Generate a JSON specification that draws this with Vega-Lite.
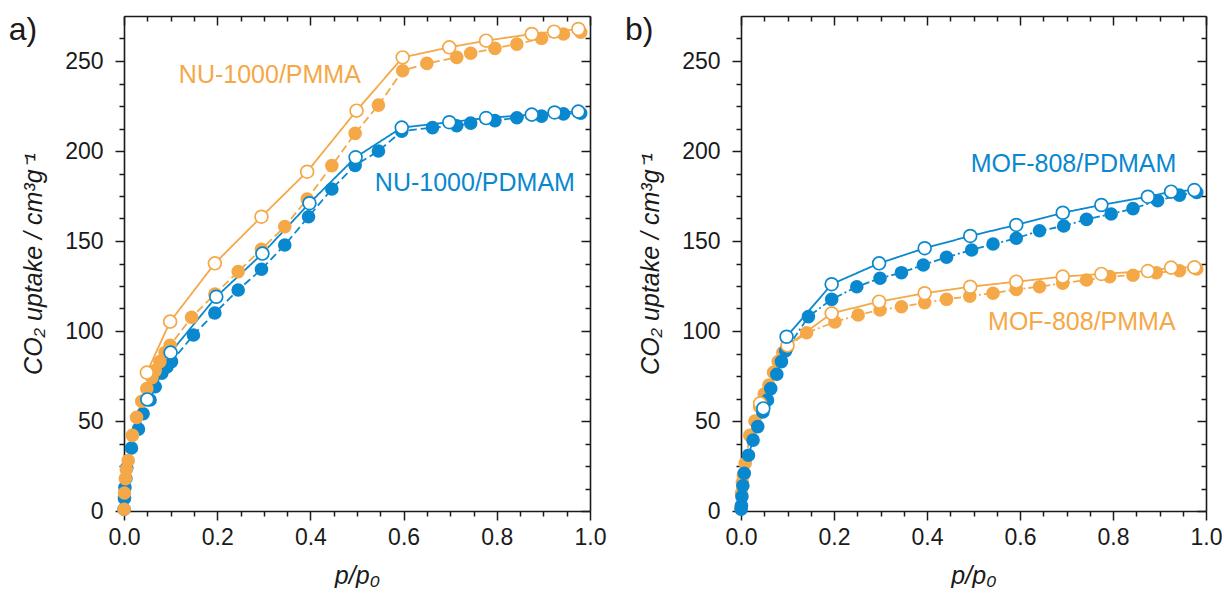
{
  "$schema": "https://vega.github.io/schema/vega-lite/v6.json",
  "autosize": {"type": "pad"},
  "padding": {"left": 8, "top": 14, "right": 0, "bottom": 0},
  "spacing": 151,
  "bounds": "flush",
  "config": {
    "font": "Liberation Sans",
    "view": {"stroke": null},
    "axis": {"domainColor": "#1a1a1a", "domainWidth": 1.6, "tickColor": "#1a1a1a", "tickWidth": 1.5, "labelFontSize": 23, "labelColor": "#1a1a1a", "titleFontSize": 25, "titleFontWeight": "normal", "titleColor": "#1a1a1a", "grid": false, "labelOverlap": false, "labelFlush": false}
  },
  "resolve": {"scale": {"color": "independent", "strokeDash": "independent"}},
  "datasets": {
    "iso": [
      {"panel":"a","mat":"PDMAM","mode":"ads","p":0.0002,"v":1},
      {"panel":"a","mat":"PDMAM","mode":"ads","p":0.001,"v":7},
      {"panel":"a","mat":"PDMAM","mode":"ads","p":0.002,"v":13},
      {"panel":"a","mat":"PDMAM","mode":"ads","p":0.004,"v":18},
      {"panel":"a","mat":"PDMAM","mode":"ads","p":0.006,"v":24},
      {"panel":"a","mat":"PDMAM","mode":"ads","p":0.016,"v":35},
      {"panel":"a","mat":"PDMAM","mode":"ads","p":0.031,"v":45.5},
      {"panel":"a","mat":"PDMAM","mode":"ads","p":0.041,"v":54},
      {"panel":"a","mat":"PDMAM","mode":"ads","p":0.056,"v":61.7},
      {"panel":"a","mat":"PDMAM","mode":"ads","p":0.067,"v":69},
      {"panel":"a","mat":"PDMAM","mode":"ads","p":0.081,"v":76.5},
      {"panel":"a","mat":"PDMAM","mode":"ads","p":0.092,"v":80},
      {"panel":"a","mat":"PDMAM","mode":"ads","p":0.102,"v":83},
      {"panel":"a","mat":"PDMAM","mode":"ads","p":0.149,"v":97.8},
      {"panel":"a","mat":"PDMAM","mode":"ads","p":0.195,"v":110},
      {"panel":"a","mat":"PDMAM","mode":"ads","p":0.245,"v":122.8},
      {"panel":"a","mat":"PDMAM","mode":"ads","p":0.295,"v":134.3},
      {"panel":"a","mat":"PDMAM","mode":"ads","p":0.345,"v":147.8},
      {"panel":"a","mat":"PDMAM","mode":"ads","p":0.396,"v":163.5},
      {"panel":"a","mat":"PDMAM","mode":"ads","p":0.446,"v":178.9},
      {"panel":"a","mat":"PDMAM","mode":"ads","p":0.496,"v":192},
      {"panel":"a","mat":"PDMAM","mode":"ads","p":0.546,"v":200},
      {"panel":"a","mat":"PDMAM","mode":"ads","p":0.596,"v":211},
      {"panel":"a","mat":"PDMAM","mode":"ads","p":0.662,"v":213},
      {"panel":"a","mat":"PDMAM","mode":"ads","p":0.714,"v":214},
      {"panel":"a","mat":"PDMAM","mode":"ads","p":0.744,"v":215.5},
      {"panel":"a","mat":"PDMAM","mode":"ads","p":0.796,"v":216.9},
      {"panel":"a","mat":"PDMAM","mode":"ads","p":0.843,"v":218.5},
      {"panel":"a","mat":"PDMAM","mode":"ads","p":0.896,"v":219.4},
      {"panel":"a","mat":"PDMAM","mode":"ads","p":0.943,"v":220.6},
      {"panel":"a","mat":"PDMAM","mode":"ads","p":0.98,"v":221},
      {"panel":"a","mat":"PDMAM","mode":"des","p":0.05,"v":62},
      {"panel":"a","mat":"PDMAM","mode":"des","p":0.1,"v":88},
      {"panel":"a","mat":"PDMAM","mode":"des","p":0.198,"v":119},
      {"panel":"a","mat":"PDMAM","mode":"des","p":0.297,"v":143},
      {"panel":"a","mat":"PDMAM","mode":"des","p":0.398,"v":171},
      {"panel":"a","mat":"PDMAM","mode":"des","p":0.497,"v":196.5},
      {"panel":"a","mat":"PDMAM","mode":"des","p":0.596,"v":213},
      {"panel":"a","mat":"PDMAM","mode":"des","p":0.698,"v":216},
      {"panel":"a","mat":"PDMAM","mode":"des","p":0.777,"v":218.3},
      {"panel":"a","mat":"PDMAM","mode":"des","p":0.875,"v":220.2},
      {"panel":"a","mat":"PDMAM","mode":"des","p":0.924,"v":221.4},
      {"panel":"a","mat":"PDMAM","mode":"des","p":0.975,"v":221.9},
      {"panel":"a","mat":"PMMA","mode":"ads","p":0.0002,"v":1},
      {"panel":"a","mat":"PMMA","mode":"ads","p":0.001,"v":10},
      {"panel":"a","mat":"PMMA","mode":"ads","p":0.003,"v":18},
      {"panel":"a","mat":"PMMA","mode":"ads","p":0.005,"v":23},
      {"panel":"a","mat":"PMMA","mode":"ads","p":0.009,"v":28},
      {"panel":"a","mat":"PMMA","mode":"ads","p":0.018,"v":42},
      {"panel":"a","mat":"PMMA","mode":"ads","p":0.027,"v":52},
      {"panel":"a","mat":"PMMA","mode":"ads","p":0.038,"v":61},
      {"panel":"a","mat":"PMMA","mode":"ads","p":0.049,"v":68},
      {"panel":"a","mat":"PMMA","mode":"ads","p":0.06,"v":74},
      {"panel":"a","mat":"PMMA","mode":"ads","p":0.067,"v":78},
      {"panel":"a","mat":"PMMA","mode":"ads","p":0.077,"v":83},
      {"panel":"a","mat":"PMMA","mode":"ads","p":0.088,"v":88},
      {"panel":"a","mat":"PMMA","mode":"ads","p":0.099,"v":92},
      {"panel":"a","mat":"PMMA","mode":"ads","p":0.145,"v":107.6},
      {"panel":"a","mat":"PMMA","mode":"ads","p":0.195,"v":120.5},
      {"panel":"a","mat":"PMMA","mode":"ads","p":0.245,"v":133},
      {"panel":"a","mat":"PMMA","mode":"ads","p":0.295,"v":145.4},
      {"panel":"a","mat":"PMMA","mode":"ads","p":0.345,"v":158},
      {"panel":"a","mat":"PMMA","mode":"ads","p":0.393,"v":173.3},
      {"panel":"a","mat":"PMMA","mode":"ads","p":0.446,"v":191.9},
      {"panel":"a","mat":"PMMA","mode":"ads","p":0.496,"v":209.8},
      {"panel":"a","mat":"PMMA","mode":"ads","p":0.546,"v":225.5},
      {"panel":"a","mat":"PMMA","mode":"ads","p":0.598,"v":244.6},
      {"panel":"a","mat":"PMMA","mode":"ads","p":0.65,"v":248.7},
      {"panel":"a","mat":"PMMA","mode":"ads","p":0.714,"v":252},
      {"panel":"a","mat":"PMMA","mode":"ads","p":0.744,"v":254.3},
      {"panel":"a","mat":"PMMA","mode":"ads","p":0.796,"v":257},
      {"panel":"a","mat":"PMMA","mode":"ads","p":0.843,"v":259.4},
      {"panel":"a","mat":"PMMA","mode":"ads","p":0.896,"v":262.6},
      {"panel":"a","mat":"PMMA","mode":"ads","p":0.943,"v":265},
      {"panel":"a","mat":"PMMA","mode":"ads","p":0.98,"v":266},
      {"panel":"a","mat":"PMMA","mode":"des","p":0.049,"v":76.9},
      {"panel":"a","mat":"PMMA","mode":"des","p":0.099,"v":105.2},
      {"panel":"a","mat":"PMMA","mode":"des","p":0.195,"v":137.6},
      {"panel":"a","mat":"PMMA","mode":"des","p":0.295,"v":163.5},
      {"panel":"a","mat":"PMMA","mode":"des","p":0.393,"v":188.5},
      {"panel":"a","mat":"PMMA","mode":"des","p":0.499,"v":222.4},
      {"panel":"a","mat":"PMMA","mode":"des","p":0.598,"v":252},
      {"panel":"a","mat":"PMMA","mode":"des","p":0.698,"v":257.6},
      {"panel":"a","mat":"PMMA","mode":"des","p":0.777,"v":261.3},
      {"panel":"a","mat":"PMMA","mode":"des","p":0.875,"v":265},
      {"panel":"a","mat":"PMMA","mode":"des","p":0.923,"v":266.3},
      {"panel":"a","mat":"PMMA","mode":"des","p":0.975,"v":267.8},

      {"panel":"b","mat":"PMMA","mode":"ads","p":0.0002,"v":2},
      {"panel":"b","mat":"PMMA","mode":"ads","p":0.001,"v":10},
      {"panel":"b","mat":"PMMA","mode":"ads","p":0.003,"v":16},
      {"panel":"b","mat":"PMMA","mode":"ads","p":0.005,"v":20},
      {"panel":"b","mat":"PMMA","mode":"ads","p":0.009,"v":26.5},
      {"panel":"b","mat":"PMMA","mode":"ads","p":0.019,"v":42},
      {"panel":"b","mat":"PMMA","mode":"ads","p":0.03,"v":50},
      {"panel":"b","mat":"PMMA","mode":"ads","p":0.04,"v":58},
      {"panel":"b","mat":"PMMA","mode":"ads","p":0.05,"v":65},
      {"panel":"b","mat":"PMMA","mode":"ads","p":0.06,"v":70},
      {"panel":"b","mat":"PMMA","mode":"ads","p":0.07,"v":77},
      {"panel":"b","mat":"PMMA","mode":"ads","p":0.08,"v":83},
      {"panel":"b","mat":"PMMA","mode":"ads","p":0.09,"v":88},
      {"panel":"b","mat":"PMMA","mode":"ads","p":0.1,"v":91},
      {"panel":"b","mat":"PMMA","mode":"ads","p":0.141,"v":99},
      {"panel":"b","mat":"PMMA","mode":"ads","p":0.202,"v":105},
      {"panel":"b","mat":"PMMA","mode":"ads","p":0.252,"v":108.9},
      {"panel":"b","mat":"PMMA","mode":"ads","p":0.299,"v":111.7},
      {"panel":"b","mat":"PMMA","mode":"ads","p":0.345,"v":113.5},
      {"panel":"b","mat":"PMMA","mode":"ads","p":0.395,"v":115.7},
      {"panel":"b","mat":"PMMA","mode":"ads","p":0.442,"v":117.6},
      {"panel":"b","mat":"PMMA","mode":"ads","p":0.492,"v":119.4},
      {"panel":"b","mat":"PMMA","mode":"ads","p":0.542,"v":121},
      {"panel":"b","mat":"PMMA","mode":"ads","p":0.592,"v":123.1},
      {"panel":"b","mat":"PMMA","mode":"ads","p":0.642,"v":124.6},
      {"panel":"b","mat":"PMMA","mode":"ads","p":0.692,"v":126.5},
      {"panel":"b","mat":"PMMA","mode":"ads","p":0.743,"v":128.3},
      {"panel":"b","mat":"PMMA","mode":"ads","p":0.793,"v":130.2},
      {"panel":"b","mat":"PMMA","mode":"ads","p":0.843,"v":131},
      {"panel":"b","mat":"PMMA","mode":"ads","p":0.893,"v":132.4},
      {"panel":"b","mat":"PMMA","mode":"ads","p":0.943,"v":133.5},
      {"panel":"b","mat":"PMMA","mode":"ads","p":0.98,"v":134.5},
      {"panel":"b","mat":"PMMA","mode":"des","p":0.041,"v":59.8},
      {"panel":"b","mat":"PMMA","mode":"des","p":0.1,"v":92},
      {"panel":"b","mat":"PMMA","mode":"des","p":0.195,"v":109.8},
      {"panel":"b","mat":"PMMA","mode":"des","p":0.297,"v":116.3},
      {"panel":"b","mat":"PMMA","mode":"des","p":0.395,"v":121},
      {"panel":"b","mat":"PMMA","mode":"des","p":0.493,"v":124.6},
      {"panel":"b","mat":"PMMA","mode":"des","p":0.592,"v":127.4},
      {"panel":"b","mat":"PMMA","mode":"des","p":0.692,"v":130.2},
      {"panel":"b","mat":"PMMA","mode":"des","p":0.775,"v":131.7},
      {"panel":"b","mat":"PMMA","mode":"des","p":0.875,"v":133.3},
      {"panel":"b","mat":"PMMA","mode":"des","p":0.925,"v":135.2},
      {"panel":"b","mat":"PMMA","mode":"des","p":0.975,"v":135.4},
      {"panel":"b","mat":"PDMAM","mode":"ads","p":0.0002,"v":1},
      {"panel":"b","mat":"PDMAM","mode":"ads","p":0.001,"v":3},
      {"panel":"b","mat":"PDMAM","mode":"ads","p":0.002,"v":8},
      {"panel":"b","mat":"PDMAM","mode":"ads","p":0.004,"v":14},
      {"panel":"b","mat":"PDMAM","mode":"ads","p":0.007,"v":21},
      {"panel":"b","mat":"PDMAM","mode":"ads","p":0.016,"v":31},
      {"panel":"b","mat":"PDMAM","mode":"ads","p":0.026,"v":39.4},
      {"panel":"b","mat":"PDMAM","mode":"ads","p":0.036,"v":46.9},
      {"panel":"b","mat":"PDMAM","mode":"ads","p":0.047,"v":55},
      {"panel":"b","mat":"PDMAM","mode":"ads","p":0.057,"v":61.7},
      {"panel":"b","mat":"PDMAM","mode":"ads","p":0.064,"v":68},
      {"panel":"b","mat":"PDMAM","mode":"ads","p":0.077,"v":76},
      {"panel":"b","mat":"PDMAM","mode":"ads","p":0.087,"v":83},
      {"panel":"b","mat":"PDMAM","mode":"ads","p":0.096,"v":89},
      {"panel":"b","mat":"PDMAM","mode":"ads","p":0.145,"v":108},
      {"panel":"b","mat":"PDMAM","mode":"ads","p":0.195,"v":117.6},
      {"panel":"b","mat":"PDMAM","mode":"ads","p":0.249,"v":124.6},
      {"panel":"b","mat":"PDMAM","mode":"ads","p":0.299,"v":129.3},
      {"panel":"b","mat":"PDMAM","mode":"ads","p":0.345,"v":132.4},
      {"panel":"b","mat":"PDMAM","mode":"ads","p":0.392,"v":136.7},
      {"panel":"b","mat":"PDMAM","mode":"ads","p":0.442,"v":141},
      {"panel":"b","mat":"PDMAM","mode":"ads","p":0.496,"v":145},
      {"panel":"b","mat":"PDMAM","mode":"ads","p":0.542,"v":148.3},
      {"panel":"b","mat":"PDMAM","mode":"ads","p":0.592,"v":151.5},
      {"panel":"b","mat":"PDMAM","mode":"ads","p":0.642,"v":155.7},
      {"panel":"b","mat":"PDMAM","mode":"ads","p":0.694,"v":158.3},
      {"panel":"b","mat":"PDMAM","mode":"ads","p":0.743,"v":162},
      {"panel":"b","mat":"PDMAM","mode":"ads","p":0.796,"v":165},
      {"panel":"b","mat":"PDMAM","mode":"ads","p":0.843,"v":168},
      {"panel":"b","mat":"PDMAM","mode":"ads","p":0.896,"v":172.4},
      {"panel":"b","mat":"PDMAM","mode":"ads","p":0.943,"v":175.5},
      {"panel":"b","mat":"PDMAM","mode":"ads","p":0.98,"v":177},
      {"panel":"b","mat":"PDMAM","mode":"des","p":0.048,"v":57},
      {"panel":"b","mat":"PDMAM","mode":"des","p":0.098,"v":96.8},
      {"panel":"b","mat":"PDMAM","mode":"des","p":0.195,"v":126},
      {"panel":"b","mat":"PDMAM","mode":"des","p":0.297,"v":137.6},
      {"panel":"b","mat":"PDMAM","mode":"des","p":0.395,"v":146},
      {"panel":"b","mat":"PDMAM","mode":"des","p":0.493,"v":152.8},
      {"panel":"b","mat":"PDMAM","mode":"des","p":0.592,"v":158.9},
      {"panel":"b","mat":"PDMAM","mode":"des","p":0.692,"v":165.7},
      {"panel":"b","mat":"PDMAM","mode":"des","p":0.775,"v":170},
      {"panel":"b","mat":"PDMAM","mode":"des","p":0.875,"v":174.6},
      {"panel":"b","mat":"PDMAM","mode":"des","p":0.925,"v":177.4},
      {"panel":"b","mat":"PDMAM","mode":"des","p":0.975,"v":178.3}
    ],
    "labels": [
      {"panel":"a","mat":"PMMA","text":"NU-1000/PMMA","p":0.313,"v":242},
      {"panel":"a","mat":"PDMAM","text":"NU-1000/PDMAM","p":0.753,"v":182},
      {"panel":"b","mat":"PDMAM","text":"MOF-808/PDMAM","p":0.715,"v":193},
      {"panel":"b","mat":"PMMA","text":"MOF-808/PMMA","p":0.733,"v":105}
    ],
    "tags": [
      {"panel":"a","text":"a)","p":-0.217,"v":267},
      {"panel":"b","text":"b)","p":-0.219,"v":267}
    ]
  },
  "hconcat": [
    {
      "width": 466, "height": 495,
      "resolve": {"axis": {"x": "independent", "y": "independent"}},
      "layer": [
        {
          "data": {"name": "iso"},
          "transform": [{"filter": "datum.panel === 'a'"}],
          "mark": {"type": "line", "strokeWidth": 1.8},
          "encoding": {
            "x": {"field": "p", "type": "quantitative", "scale": {"domain": [0, 1], "nice": false},
              "axis": {"orient": "bottom", "title": "p/p₀", "titleFontStyle": "italic", "titlePadding": 14, "labelPadding": 6,
                "values": [0,0.05,0.1,0.15,0.2,0.25,0.3,0.35,0.4,0.45,0.5,0.55,0.6,0.65,0.7,0.75,0.8,0.85,0.9,0.95,1],
                "labelExpr": "abs(datum.value*5-round(datum.value*5))<0.001 ? format(datum.value,'.1f') : ''",
                "tickSize": {"condition": {"test": "abs(datum.value*5-round(datum.value*5))<0.001", "value": 9}, "value": 5}}},
            "y": {"field": "v", "type": "quantitative", "scale": {"domain": [0, 275], "nice": false},
              "axis": {"orient": "left", "title": "CO₂ uptake / cm³g⁻¹", "titleFontStyle": "italic", "titlePadding": 18, "labelPadding": 12,
                "values": [0,12.5,25,37.5,50,62.5,75,87.5,100,112.5,125,137.5,150,162.5,175,187.5,200,212.5,225,237.5,250,262.5],
                "labelExpr": "datum.value % 50 === 0 ? format(datum.value,'d') : ''",
                "tickSize": {"condition": {"test": "datum.value % 50 === 0", "value": 9}, "value": 5}}},
            "color": {"field": "mat", "type": "nominal", "scale": {"domain": ["PMMA", "PDMAM"], "range": ["#F5A847", "#0A88CF"]}, "legend": null},
            "strokeDash": {"field": "mode", "type": "nominal", "scale": {"domain": ["ads", "des"], "range": [[8, 4], [1, 0]]}, "legend": null}
          }
        },
        {
          "data": {"name": "iso"},
          "transform": [{"filter": "datum.panel === 'a' && datum.mode === 'ads'"}],
          "mark": {"type": "point", "filled": true, "size": 185, "opacity": 1},
          "encoding": {
            "x": {"field": "p", "type": "quantitative", "axis": null},
            "y": {"field": "v", "type": "quantitative", "axis": null},
            "color": {"field": "mat", "type": "nominal", "legend": null}
          }
        },
        {
          "data": {"name": "iso"},
          "transform": [{"filter": "datum.panel === 'a' && datum.mode === 'des'"}],
          "mark": {"type": "point", "filled": false, "fill": "white", "fillOpacity": 1, "size": 165, "strokeWidth": 1.7, "opacity": 1},
          "encoding": {
            "x": {"field": "p", "type": "quantitative",
              "axis": {"orient": "top", "title": null, "labels": false,
                "values": [0,0.05,0.1,0.15,0.2,0.25,0.3,0.35,0.4,0.45,0.5,0.55,0.6,0.65,0.7,0.75,0.8,0.85,0.9,0.95,1],
                "tickSize": {"condition": {"test": "abs(datum.value*5-round(datum.value*5))<0.001", "value": -9}, "value": -5}}},
            "y": {"field": "v", "type": "quantitative",
              "axis": {"orient": "right", "title": null, "labels": false,
                "values": [0,12.5,25,37.5,50,62.5,75,87.5,100,112.5,125,137.5,150,162.5,175,187.5,200,212.5,225,237.5,250,262.5],
                "tickSize": {"condition": {"test": "datum.value % 50 === 0", "value": -9}, "value": -5}}},
            "color": {"field": "mat", "type": "nominal", "legend": null}
          }
        },
        {
          "data": {"name": "labels"},
          "transform": [{"filter": "datum.panel === 'a'"}],
          "mark": {"type": "text", "fontSize": 25, "align": "center", "baseline": "middle"},
          "encoding": {
            "x": {"field": "p", "type": "quantitative", "axis": null},
            "y": {"field": "v", "type": "quantitative", "axis": null},
            "text": {"field": "text"},
            "color": {"field": "mat", "type": "nominal", "legend": null}
          }
        },
        {
          "data": {"name": "tags"},
          "transform": [{"filter": "datum.panel === 'a'"}],
          "mark": {"type": "text", "fontSize": 32, "align": "center", "baseline": "middle", "color": "#1a1a1a"},
          "encoding": {
            "x": {"field": "p", "type": "quantitative", "axis": null},
            "y": {"field": "v", "type": "quantitative", "axis": null},
            "text": {"field": "text"}
          }
        }
      ]
    },
    {
      "width": 465, "height": 495,
      "resolve": {"axis": {"x": "independent", "y": "independent"}},
      "layer": [
        {
          "data": {"name": "iso"},
          "transform": [{"filter": "datum.panel === 'b'"}],
          "mark": {"type": "line", "strokeWidth": 1.8},
          "encoding": {
            "x": {"field": "p", "type": "quantitative", "scale": {"domain": [0, 1], "nice": false},
              "axis": {"orient": "bottom", "title": "p/p₀", "titleFontStyle": "italic", "titlePadding": 14, "labelPadding": 6,
                "values": [0,0.05,0.1,0.15,0.2,0.25,0.3,0.35,0.4,0.45,0.5,0.55,0.6,0.65,0.7,0.75,0.8,0.85,0.9,0.95,1],
                "labelExpr": "abs(datum.value*5-round(datum.value*5))<0.001 ? format(datum.value,'.1f') : ''",
                "tickSize": {"condition": {"test": "abs(datum.value*5-round(datum.value*5))<0.001", "value": 9}, "value": 5}}},
            "y": {"field": "v", "type": "quantitative", "scale": {"domain": [0, 275], "nice": false},
              "axis": {"orient": "left", "title": "CO₂ uptake / cm³g⁻¹", "titleFontStyle": "italic", "titlePadding": 18, "labelPadding": 12,
                "values": [0,12.5,25,37.5,50,62.5,75,87.5,100,112.5,125,137.5,150,162.5,175,187.5,200,212.5,225,237.5,250,262.5],
                "labelExpr": "datum.value % 50 === 0 ? format(datum.value,'d') : ''",
                "tickSize": {"condition": {"test": "datum.value % 50 === 0", "value": 9}, "value": 5}}},
            "color": {"field": "mat", "type": "nominal", "scale": {"domain": ["PMMA", "PDMAM"], "range": ["#F5A847", "#0A88CF"]}, "legend": null},
            "strokeDash": {"field": "mode", "type": "nominal", "scale": {"domain": ["ads", "des"], "range": [[7, 3, 2, 3], [1, 0]]}, "legend": null}
          }
        },
        {
          "data": {"name": "iso"},
          "transform": [{"filter": "datum.panel === 'b' && datum.mode === 'ads'"}],
          "mark": {"type": "point", "filled": true, "size": 185, "opacity": 1},
          "encoding": {
            "x": {"field": "p", "type": "quantitative", "axis": null},
            "y": {"field": "v", "type": "quantitative", "axis": null},
            "color": {"field": "mat", "type": "nominal", "legend": null}
          }
        },
        {
          "data": {"name": "iso"},
          "transform": [{"filter": "datum.panel === 'b' && datum.mode === 'des'"}],
          "mark": {"type": "point", "filled": false, "fill": "white", "fillOpacity": 1, "size": 165, "strokeWidth": 1.7, "opacity": 1},
          "encoding": {
            "x": {"field": "p", "type": "quantitative",
              "axis": {"orient": "top", "title": null, "labels": false,
                "values": [0,0.05,0.1,0.15,0.2,0.25,0.3,0.35,0.4,0.45,0.5,0.55,0.6,0.65,0.7,0.75,0.8,0.85,0.9,0.95,1],
                "tickSize": {"condition": {"test": "abs(datum.value*5-round(datum.value*5))<0.001", "value": -9}, "value": -5}}},
            "y": {"field": "v", "type": "quantitative",
              "axis": {"orient": "right", "title": null, "labels": false,
                "values": [0,12.5,25,37.5,50,62.5,75,87.5,100,112.5,125,137.5,150,162.5,175,187.5,200,212.5,225,237.5,250,262.5],
                "tickSize": {"condition": {"test": "datum.value % 50 === 0", "value": -9}, "value": -5}}},
            "color": {"field": "mat", "type": "nominal", "legend": null}
          }
        },
        {
          "data": {"name": "labels"},
          "transform": [{"filter": "datum.panel === 'b'"}],
          "mark": {"type": "text", "fontSize": 25, "align": "center", "baseline": "middle"},
          "encoding": {
            "x": {"field": "p", "type": "quantitative", "axis": null},
            "y": {"field": "v", "type": "quantitative", "axis": null},
            "text": {"field": "text"},
            "color": {"field": "mat", "type": "nominal", "legend": null}
          }
        },
        {
          "data": {"name": "tags"},
          "transform": [{"filter": "datum.panel === 'b'"}],
          "mark": {"type": "text", "fontSize": 32, "align": "center", "baseline": "middle", "color": "#1a1a1a"},
          "encoding": {
            "x": {"field": "p", "type": "quantitative", "axis": null},
            "y": {"field": "v", "type": "quantitative", "axis": null},
            "text": {"field": "text"}
          }
        }
      ]
    }
  ]
}
